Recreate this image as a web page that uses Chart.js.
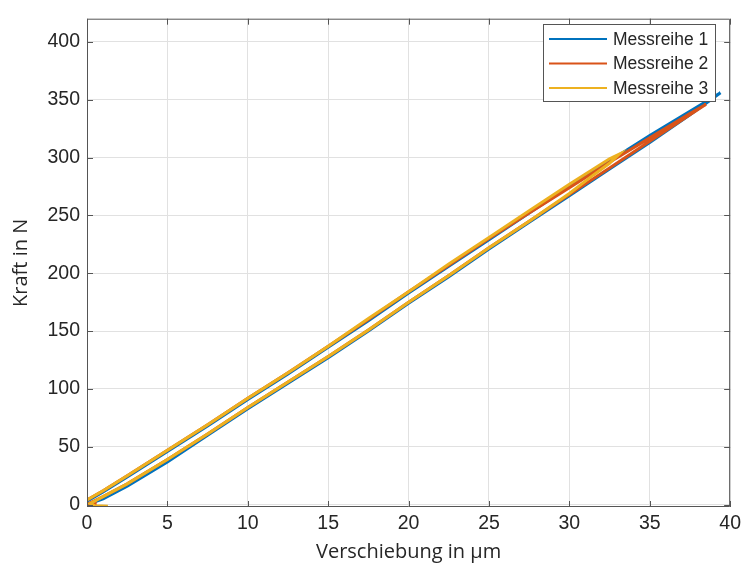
<!DOCTYPE html>
<html>
<head>
<meta charset="utf-8">
<script src="https://cdn.jsdelivr.net/npm/chart.js@4.4.1/dist/chart.umd.min.js"></script>
<style>
  html, body { margin: 0; padding: 0; background: #ffffff; }
  canvas { display: block; }
</style>
</head>
<body>
<canvas id="chart" width="746" height="572"></canvas>
<script>
// Kraft-Weg-Messung: Belastung und Entlastung, drei Messreihen
const seriesNames  = ['Messreihe 1', 'Messreihe 2', 'Messreihe 3'];
const seriesColors = ['#0072BD', '#D95319', '#EDB120'];

const xTicks = [0, 5, 10, 15, 20, 25, 30, 35, 40];
const yTicks = [0, 50, 100, 150, 200, 250, 300, 350, 400];

// Messreihe 1: Weg in µm, Kraft in N
const weg1   = [0, 1, 2.5, 5, 7.5, 10, 12.5, 15, 17.5, 20, 22.5, 25, 27.5, 30, 32.5, 35, 37.5, 39.4,
                38.5, 37.5, 35, 32.5, 30, 27.5, 25, 22.5, 20, 17.5, 15, 12.5, 10, 7.5, 5, 2.5, 1, 0];
const kraft1 = [3, 11, 24, 46, 68, 91, 113, 136, 159, 183, 206, 229, 252, 275, 297, 319, 340, 356,
                347, 337, 313, 290, 267, 244, 221, 197, 174, 150, 127, 105, 83, 60, 37, 16, 5, 0];

// Messreihe 2
const weg2   = [0, 1, 2.5, 5, 7.5, 10, 12.5, 15, 17.5, 20, 22.5, 25, 27.5, 30, 32.5, 35, 37.5, 38.5,
                37.5, 35, 32.5, 30, 27.5, 25, 22.5, 20, 17.5, 15, 12.5, 10, 7.5, 5, 2.5, 1, 0.1, 0.6];
const kraft2 = [4, 12, 25, 47, 69, 92, 114, 137, 160, 184, 207, 230, 252, 274, 296, 317, 338, 346,
                337, 314, 291, 268, 245, 222, 198, 175, 151, 128, 106, 84, 61, 39, 18, 7, 1, 1];

// Messreihe 3
const weg3   = [0, 1, 2.5, 5, 7.5, 10, 12.5, 15, 17.5, 20, 22.5, 25, 27.5, 30, 32.5, 33.1,
                32.5, 31.5, 30, 27.5, 25, 22.5, 20, 17.5, 15, 12.5, 10, 7.5, 5, 2.5, 1, 0.2, 0.5, 1.3];
const kraft3 = [4, 12, 25, 47, 69, 92, 114, 137, 161, 184, 208, 231, 254, 277, 299, 303,
                295, 285, 269, 245, 222, 198, 175, 151, 128, 106, 84, 61, 39, 18, 7, 1, -1, -1.3];

const wegReihen   = [weg1, weg2, weg3];
const kraftReihen = [kraft1, kraft2, kraft3];

const FONT = "'Liberation Sans', Arial, Helvetica, sans-serif";
const TITLE_FONT = "'Open Sans', 'Noto Sans', sans-serif";
const TEXT = '#262626';

const datasets = seriesNames.map((name, i) => ({
  label: name,
  data: wegReihen[i].map((w, k) => ({ x: w, y: kraftReihen[i][k] })),
  borderColor: seriesColors[i],
  backgroundColor: seriesColors[i],
  borderWidth: 3,
  showLine: true,
  pointRadius: 0,
  tension: 0,
  fill: false,
  order: seriesNames.length - i   // spätere Reihen liegen oben
}));

// Achsenrahmen mit innenliegenden Teilstrichen und Legende im Diagramm
const frameAndLegend = {
  id: 'frameAndLegend',
  afterDraw(chart) {
    const { ctx, chartArea: a, scales: { x, y } } = chart;
    const tick = 6;
    ctx.save();
    ctx.strokeStyle = '#555555';
    ctx.lineWidth = 1;
    ctx.beginPath();
    ctx.rect(a.left + 0.5, a.top + 0.5, a.right - a.left - 1, a.bottom - a.top - 1);
    xTicks.forEach(v => {
      const px = Math.round(x.getPixelForValue(v)) + 0.5;
      ctx.moveTo(px, a.bottom); ctx.lineTo(px, a.bottom - tick);
      ctx.moveTo(px, a.top);    ctx.lineTo(px, a.top + tick);
    });
    yTicks.forEach(v => {
      const py = Math.round(y.getPixelForValue(v)) + 0.5;
      ctx.moveTo(a.left, py);  ctx.lineTo(a.left + tick, py);
      ctx.moveTo(a.right, py); ctx.lineTo(a.right - tick, py);
    });
    ctx.stroke();

    // Legende
    const box = { left: 543, top: 24, width: 173, height: 78 };
    ctx.fillStyle = '#ffffff';
    ctx.fillRect(box.left, box.top, box.width, box.height);
    ctx.strokeStyle = '#555555';
    ctx.strokeRect(box.left + 0.5, box.top + 0.5, box.width - 1, box.height - 1);
    ctx.font = '17.5px ' + FONT;
    ctx.textAlign = 'left';
    ctx.textBaseline = 'middle';
    chart.data.datasets.forEach((ds, i) => {
      const rowY = box.top + 15 + i * 24.5;
      ctx.strokeStyle = ds.borderColor;
      ctx.lineWidth = 2;
      ctx.beginPath();
      ctx.moveTo(box.left + 6, rowY);
      ctx.lineTo(box.left + 64, rowY);
      ctx.stroke();
      ctx.fillStyle = TEXT;
      ctx.fillText(ds.label, box.left + 70, rowY + 1);
    });
    ctx.restore();
  }
};

new Chart(document.getElementById('chart'), {
  type: 'scatter',
  data: { datasets },
  options: {
    responsive: false,
    animation: false,
    layout: { padding: { left: 0, top: 13, right: 15, bottom: 0 } },
    plugins: { legend: { display: false }, tooltip: { enabled: false } },
    scales: {
      x: {
        type: 'linear',
        min: 0,
        max: 40,
        afterBuildTicks: s => { s.ticks = xTicks.map(v => ({ value: v })); },
        afterFit: s => { s.height = 65; },
        grid: { color: '#e1e1e1', lineWidth: 1, drawTicks: false },
        border: { display: false },
        ticks: { padding: 5, color: TEXT, font: { family: FONT, size: 19.5 }, maxRotation: 0 },
        title: {
          display: true,
          text: 'Verschiebung in µm',
          color: TEXT,
          font: { family: TITLE_FONT, size: 20 },
          padding: { top: 0, bottom: 8 }
        }
      },
      y: {
        type: 'linear',
        min: -2,
        max: 420,
        afterBuildTicks: s => { s.ticks = yTicks.map(v => ({ value: v })); },
        afterFit: s => { s.width = 87; },
        grid: { color: '#e1e1e1', lineWidth: 1, drawTicks: false },
        border: { display: false },
        ticks: { padding: 7, color: TEXT, font: { family: FONT, size: 19.5 } },
        title: {
          display: true,
          text: 'Kraft in N',
          color: TEXT,
          font: { family: TITLE_FONT, size: 20 },
          padding: { top: 9, bottom: 0 }
        }
      }
    }
  },
  plugins: [frameAndLegend]
});
</script>
</body>
</html>
